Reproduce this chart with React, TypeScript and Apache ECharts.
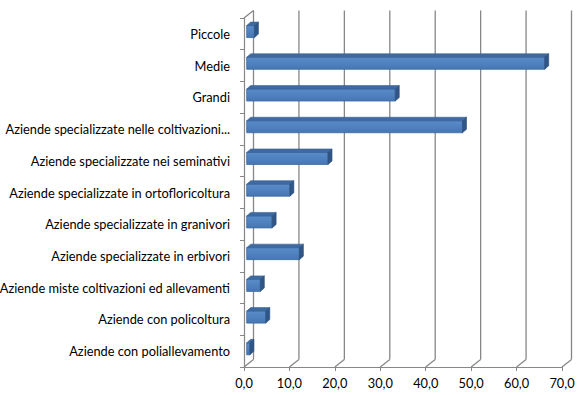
import React, { useEffect, useRef } from "react";
import * as echarts from "echarts";

const categories = [
  "Piccole",
  "Medie",
  "Grandi",
  "Aziende specializzate nelle coltivazioni...",
  "Aziende specializzate nei seminativi",
  "Aziende specializzate in ortofloricoltura",
  "Aziende specializzate in granivori",
  "Aziende specializzate in erbivori",
  "Aziende miste coltivazioni ed allevamenti",
  "Aziende con policoltura",
  "Aziende con poliallevamento",
];
const values = [1.7, 65.6, 32.7, 47.5, 17.9, 9.5, 5.6, 11.6, 3.0, 4.2, 0.7];
const xTicks = [0, 10, 20, 30, 40, 50, 60, 70];

export default function App() {
  const ref = useRef<HTMLDivElement>(null);
  useEffect(() => {
    document.body.style.margin = "0";
    const chart = echarts.init(ref.current!, null, { renderer: "svg" });
    const WALL_DX = 9.5;
    const WALL_DY = -7.5;
    const BAR_DX = 2.7;
    const BAR_DY = -2.3;
    const BAR_H = 12;
    const DEPTH_X = 4;
    const DEPTH_Y = -3.5;
    const gridColor = "#878787";
    const font = "Lato";

    chart.setOption({
      animation: false,
      grid: { left: 244, right: 23, top: 18, bottom: 28, outerBoundsMode: "none" },
      xAxis: {
        type: "value",
        min: 0,
        max: 70,
        interval: 10,
        axisLine: { show: true, lineStyle: { color: gridColor, width: 1.2 } },
        axisTick: { show: true, length: 4, lineStyle: { color: gridColor } },
        splitLine: { show: false },
        axisLabel: {
          formatter: (v: number) => v.toFixed(1).replace(".", ","),
          fontFamily: font,
          fontSize: 12.8,
          color: "#000",
          margin: 9,
        },
      },
      yAxis: {
        type: "category",
        inverse: true,
        data: categories,
        axisLine: { show: true, lineStyle: { color: gridColor, width: 1.2 } },
        axisTick: { show: true, length: 4, lineStyle: { color: gridColor } },
        splitLine: { show: false },
        axisLabel: {
          fontFamily: font,
          fontSize: 12.8,
          color: "#000",
          margin: 14,
        },
      },
      series: [
        {
          type: "custom",
          z: 1,
          clip: false,
          silent: true,
          data: xTicks.map((v) => [v, 0]),
          encode: { x: 0, y: 1 },
          renderItem: (params: any, api: any) => {
            const cs = params.coordSys;
            const v = api.value(0);
            const x = api.coord([v, 0])[0];
            const top = cs.y;
            const bottom = cs.y + cs.height;
            const style = { stroke: gridColor, lineWidth: 1.3 };
            const children: any[] = [
              {
                type: "line",
                shape: { x1: x + WALL_DX, y1: top + WALL_DY, x2: x + WALL_DX, y2: bottom + WALL_DY },
                style,
              },
              {
                type: "line",
                shape: { x1: x + WALL_DX, y1: bottom + WALL_DY, x2: x, y2: bottom },
                style,
              },
            ];
            if (v === xTicks[0]) {
              children.push({
                type: "line",
                shape: { x1: x, y1: top, x2: x + WALL_DX, y2: top + WALL_DY },
                style,
              });
            }
            return { type: "group", children };
          },
        },
        {
          type: "custom",
          z: 2,
          clip: false,
          data: values.map((v, i) => [v, i]),
          encode: { x: 0, y: 1 },
          renderItem: (params: any, api: any) => {
            const v = api.value(0);
            const idx = api.value(1);
            const p0 = api.coord([0, idx]);
            const p1 = api.coord([v, idx]);
            const x0 = p0[0] + BAR_DX;
            const x1 = p1[0] + BAR_DX;
            const yTop = p0[1] + BAR_DY - BAR_H / 2;
            const yBot = yTop + BAR_H;
            return {
              type: "group",
              children: [
                {
                  type: "rect",
                  shape: { x: x0, y: yTop, width: x1 - x0, height: BAR_H },
                  style: {
                    fill: new echarts.graphic.LinearGradient(0, 0, 0, 1, [
                      { offset: 0, color: "#5a8ccb" },
                      { offset: 1, color: "#4677b3" },
                    ]),
                    stroke: "#3d6aa3",
                    lineWidth: 0.8,
                  },
                },
                {
                  type: "polygon",
                  shape: {
                    points: [
                      [x0, yTop],
                      [x1, yTop],
                      [x1 + DEPTH_X, yTop + DEPTH_Y],
                      [x0 + DEPTH_X, yTop + DEPTH_Y],
                    ],
                  },
                  style: { fill: "#3e6aa2", stroke: "#375f92", lineWidth: 0.6 },
                },
                {
                  type: "polygon",
                  shape: {
                    points: [
                      [x1, yTop],
                      [x1 + DEPTH_X, yTop + DEPTH_Y],
                      [x1 + DEPTH_X, yBot + DEPTH_Y],
                      [x1, yBot],
                    ],
                  },
                  style: { fill: "#2f5686", stroke: "#2a4d78", lineWidth: 0.6 },
                },
              ],
            };
          },
        },
      ],
    });
    return () => chart.dispose();
  }, []);
  return <div ref={ref} style={{ width: 585, height: 395 }} />;
}
